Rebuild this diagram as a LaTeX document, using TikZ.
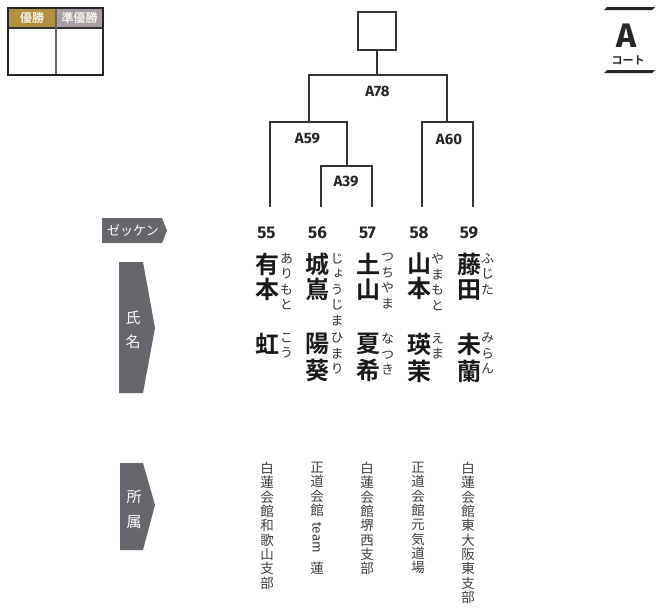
\documentclass[tikz,border=0pt]{standalone}
\usepackage{fontspec}
\setmainfont[BoldFont={Fira Sans Bold}]{Fira Sans}
\newfontfamily\jpfont[BoldFont={Noto Sans CJK JP Bold}]{Noto Sans CJK JP}
\newfontfamily\tatefont[RawFeature=+vert]{Noto Sans CJK JP}
\definecolor{tagc}{HTML}{66676C}
\definecolor{gold}{HTML}{B3903E}
\definecolor{mauve}{HTML}{A89DA6}
\tikzset{
  bline/.style={line width=1.8pt,draw=black!80},
  match/.style={font=\bfseries\fontsize{15}{15}\selectfont,text=black!85,inner sep=0pt},
  bib/.style={font=\bfseries\fontsize{17}{17}\selectfont,text=black!85,inner sep=0pt},
  sei/.style={font=\jpfont\bfseries\fontsize{24}{25}\selectfont,text=black!90,align=center,inner sep=0pt,anchor=north},
  kana/.style={font=\tatefont\fontsize{13}{15.5}\selectfont,text=black!80,align=center,inner sep=0pt,anchor=north},
  club/.style={font=\tatefont\fontsize{13.5}{14.3}\selectfont,text=black!75,align=center,inner sep=0pt,anchor=north},
  taglbl/.style={font=\jpfont,text=white,align=center,inner sep=0pt},
  hdr/.style={font=\jpfont\bfseries\fontsize{12}{12}\selectfont,text=white!90!gold,inner sep=0pt}
}
\begin{document}
\begin{tikzpicture}[x=1pt,y=-1pt]
\useasboundingbox (0,0) rectangle (668,608);
% winner box top left
\fill[gold] (8,8) rectangle (56,28);
\fill[mauve] (56,8) rectangle (103,28);
\draw[line width=1.2pt,black!80] (8,28) -- (103,28);
\draw[line width=1.2pt,black!60] (56,8) -- (56,75);
\draw[line width=2.5pt,black!85] (8,8) rectangle (103,75);
\node[hdr] (yusho) at (32,18) {優勝};
\node[hdr] (junyusho) at (79.5,18) {準優勝};
% court
\fill[black!85] (604,10) -- (607,7) -- (655,7) -- (652,10) -- cycle;
\fill[black!85] (604,73) -- (607,70) -- (655,70) -- (652,73) -- cycle;
\node[font=\bfseries\fontsize{34}{34}\selectfont,text=black!85,anchor=base,inner sep=0pt] (court) at (627,47) {A};
\node[font=\jpfont\bfseries\fontsize{11}{11}\selectfont,text=black!85,inner sep=0pt] (courtlbl) at (628,60) {コート};
% bracket
\node[draw=black!80,line width=1.8pt,minimum size=38pt,inner sep=0pt] (win) at (377,31) {};
\coordinate (p55) at (270,207);
\coordinate (p56) at (321,207);
\coordinate (p57) at (372,207);
\coordinate (p58) at (422,207);
\coordinate (p59) at (473,207);
\coordinate (m39) at (347,166);
\coordinate (m59) at (309,122);
\coordinate (m60) at (447,122);
\coordinate (m78) at (377,75);
\draw[bline] (p56) |- (m39) -| (p57);
\draw[bline] (p55) |- (m59) -| (m39);
\draw[bline] (p58) |- (m60) -| (p59);
\draw[bline] (m59) |- (m78) -| (m60);
\draw[bline] (m78) -- (win.south);
\node[match] (l78) at (377.5,91) {A78};
\node[match] (l59) at (307.5,139) {A59};
\node[match] (l60) at (449,139) {A60};
\node[match] (l39) at (346,181.5) {A39};
% tags
\fill[tagc] (102,218) -- (162,218) -- (167,230.5) -- (162,243) -- (102,243) -- cycle;
\node[taglbl,font=\jpfont\fontsize{13}{13}\selectfont] (tzekken) at (133,230.5) {ゼッケン};
\fill[tagc] (119,262) -- (143,262) -- (155,328) -- (143,393) -- (119,393) -- cycle;
\node[taglbl,font=\jpfont\fontsize{15}{24}\selectfont] (tshimei) at (133,330) {氏\\名};
\fill[tagc] (120,463) -- (143,463) -- (155,505) -- (143,550) -- (120,550) -- cycle;
\node[taglbl,font=\jpfont\fontsize{15}{25}\selectfont] (tshozoku) at (134,509.5) {所\\属};
% bibs
\node[bib] (b55) at (266.5,233) {55};
\node[bib] (b56) at (317.5,233) {56};
\node[bib] (b57) at (367.5,233) {57};
\node[bib] (b58) at (419,233) {58};
\node[bib] (b59) at (469,233) {59};
% names
\node[sei] (n55a) at (267.5,253) {有\\本};
\node[sei] (n55b) at (267.5,333) {虹};
\node[sei] (n56a) at (317.5,253) {城\\嶌};
\node[sei] (n56b) at (317.5,333) {陽\\[2pt]葵};
\node[sei] (n57a) at (368,253) {土\\山};
\node[sei] (n57b) at (368,333) {夏\\[2pt]希};
\node[sei] (n58a) at (419,253) {山\\本};
\node[sei] (n58b) at (419,333) {瑛\\[2pt]茉};
\node[sei] (n59a) at (469,253) {藤\\田};
\node[sei] (n59b) at (469,333) {未\\[2pt]蘭};
% furigana
\node[kana] (k55a) at (286.5,253) {あ\\り\\も\\と};
\node[kana] (k55b) at (286.5,333) {こ\\う};
\node[kana] (k56a) at (337,253) {じ\\ょ\\う\\じ\\ま};
\node[kana] (k56b) at (337,333) {ひ\\ま\\り};
\node[kana] (k57a) at (387.5,253) {つ\\ち\\や\\ま};
\node[kana] (k57b) at (387.5,333) {な\\つ\\き};
\node[kana] (k58a) at (437.5,253) {や\\ま\\も\\と};
\node[kana] (k58b) at (437.5,333) {え\\ま};
\node[kana] (k59a) at (487.5,253) {ふ\\じ\\た};
\node[kana] (k59b) at (487.5,333) {み\\ら\\ん};
% affiliations
\node[club] (c55) at (267,462) {白\\蓮\\会\\館\\和\\歌\\山\\支\\部};
\node[club] (c56a) at (317,462) {正\\道\\会\\館};
\node[font=\fontsize{13.5}{13.5}\selectfont,text=black!75,inner sep=0pt,rotate=-90,anchor=west] (c56b) at (317,522) {team};
\node[club] (c56c) at (317,562) {蓮};
\node[club] (c57) at (367,462) {白\\蓮\\会\\館\\堺\\西\\支\\部};
\node[club] (c58) at (418,462) {正\\道\\会\\館\\元\\気\\道\\場};
\node[club] (c59) at (468,462) {白\\蓮\\会\\館\\東\\大\\阪\\東\\支\\部};
\end{tikzpicture}
\end{document}
